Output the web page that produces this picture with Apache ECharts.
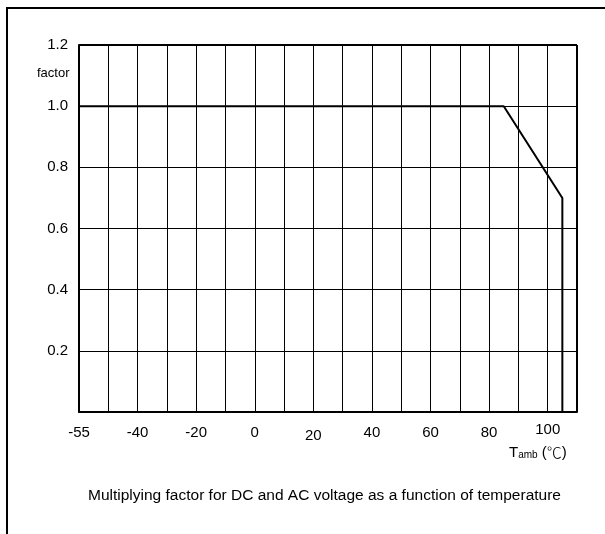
<!DOCTYPE html>
<html>
<head>
<meta charset="utf-8">
<script src="https://cdn.jsdelivr.net/npm/echarts@6/dist/echarts.min.js"></script>
<style>
html,body{margin:0;padding:0;background:#fff;}
#c{width:605px;height:534px;}
</style>
</head>
<body>
<div id="c"></div>
<script>
// Data
const temperature = [-55, 85, 105, 105];   // °C
const factor = [1.0, 1.0, 0.7, 0.0];
// x tick labels (the left edge of the drawn scale is labelled -55)
const xTickValues = [-60, -40, -20, 0, 20, 40, 60, 80, 100];
const xTickLabels = ['-55', '-40', '-20', '0', '20', '40', '60', '80', '100'];
const yTickLabels = ['0.2', '0.4', '0.6', '0.8', '1.0', '1.2'];
const caption = 'Multiplying factor for DC and AC voltage as a function of temperature';

// the drawing places the -55 label on the first grid line
function axisPos(t) { return t === Number(xTickLabels[0]) ? xTickValues[0] : t; }

const chart = echarts.init(document.getElementById('c'), null, {renderer: 'canvas'});
const font = 'Liberation Sans, Arial, sans-serif';
const cjk = 'Noto Sans CJK SC, sans-serif';

chart.setOption({
  animation: false,
  backgroundColor: '#fff',
  grid: {left: 79, top: 45, right: 28, bottom: 122, containLabel: false},
  xAxis: {
    type: 'value', min: -60, max: 110, interval: 10,
    axisLine: {show: true, onZero: false, lineStyle: {color: '#000', width: 2}},
    axisTick: {show: false},
    splitLine: {show: true, lineStyle: {color: '#000', width: 1}},
    axisLabel: {
      color: '#000', fontSize: 15, fontFamily: font, margin: 10,
      showMaxLabel: true, showMinLabel: true,
      formatter: function (v) {
        const i = xTickValues.indexOf(Math.round(v));
        if (i < 0) return '';
        const s = xTickLabels[i];
        if (s === '20') return '{lo|' + s + '}';
        if (s === '100') return '{hi|' + s + '}';
        return '{n|' + s + '}';
      },
      rich: {
        n: {fontSize: 15, fontFamily: font, color: '#000', padding: [3, 0, 0, 0]},
        lo: {fontSize: 15, fontFamily: font, color: '#000', padding: [6, 0, 0, 0]},
        hi: {fontSize: 15, fontFamily: font, color: '#000', padding: [0, 0, 0, 0]}
      }
    }
  },
  yAxis: {
    type: 'value', min: 0, max: 1.2, interval: 0.2,
    axisLine: {show: true, onZero: false, lineStyle: {color: '#000', width: 2}},
    axisTick: {show: false},
    splitLine: {show: true, lineStyle: {color: '#000', width: 1}},
    axisLabel: {
      color: '#000', fontSize: 15, fontFamily: font, margin: 11,
      formatter: function (v) {
        const s = v.toFixed(1);
        return yTickLabels.indexOf(s) >= 0 ? s : '';
      }
    }
  },
  series: [{
    type: 'line',
    data: temperature.map((t, i) => [axisPos(t), factor[i]]),
    symbol: 'none',
    lineStyle: {color: '#000', width: 2},
    z: 5
  }],
  graphic: [
    // top and right border of the plot area
    {type: 'line', shape: {x1: 79, y1: 45, x2: 577, y2: 45}, style: {stroke: '#000', lineWidth: 2}, z: 10},
    {type: 'line', shape: {x1: 577, y1: 45, x2: 577, y2: 412}, style: {stroke: '#000', lineWidth: 2}, z: 10},
    // outer frame
    {type: 'polyline', shape: {points: [[7, 534], [7, 8], [605, 8]]}, style: {stroke: '#000', lineWidth: 2, fill: null}, z: 10},
    {type: 'text', left: 37, top: 67, style: {text: 'factor', font: '13px ' + font, fill: '#000'}},
    {type: 'text', left: 509, top: 445, style: {
      text: '{a|T}{b|amb}{c| (}{d|℃}{c|)}',
      rich: {
        a: {fontSize: 15, fontFamily: font, color: '#000'},
        b: {fontSize: 10, fontFamily: font, color: '#000', padding: [6, 0, 0, 0]},
        c: {fontSize: 15, fontFamily: font, color: '#000'},
        d: {fontSize: 15, fontFamily: cjk, fontWeight: 300, color: '#000'}
      }
    }},
    {type: 'text', left: 88, top: 488, style: {text: caption, font: '15.5px ' + font, fill: '#000'}}
  ]
});
</script>
</body>
</html>
